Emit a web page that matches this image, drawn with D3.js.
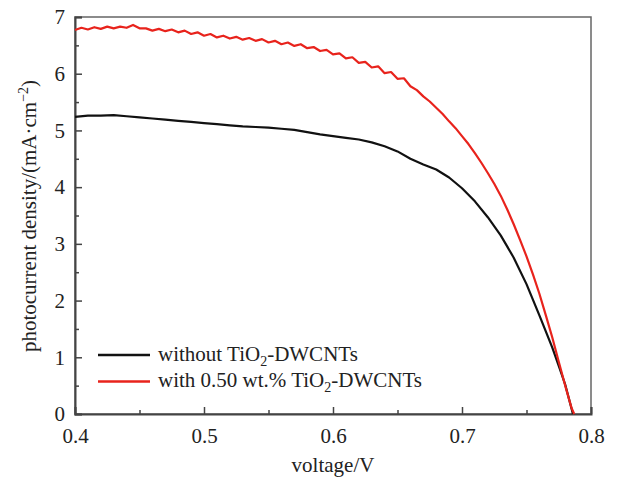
<!DOCTYPE html>
<html>
<head>
	<title>J-V curves</title>
	<script type="text/javascript" src="https://cdnjs.cloudflare.com/ajax/libs/d3/7.8.5/d3.min.js"></script>
	<style>
		body { margin: 0; background: #fff; }
		text { font-family: "Liberation Serif", "Times New Roman", serif; fill: #222; }
	</style>
</head>
<body>
<svg id="chart" width="618" height="479"></svg>
<script type="text/javascript">
	// voltage (V) and photocurrent density (mA/cm2)
	var voltRed = [0.400,0.405,0.410,0.415,0.420,0.425,0.430,0.435,0.440,0.445,0.450,0.455,0.460,0.465,0.470,0.475,0.480,0.485,0.490,0.495,
		0.500,0.505,0.510,0.515,0.520,0.525,0.530,0.535,0.540,0.545,0.550,0.555,0.560,0.565,0.570,0.575,0.580,0.585,0.590,0.595,
		0.600,0.605,0.610,0.615,0.620,0.625,0.630,0.635,0.640,0.645,0.650,0.655,0.660,0.665,0.670,0.675,0.680,0.685,0.690,0.695,
		0.700,0.705,0.710,0.715,0.720,0.725,0.730,0.735,0.740,0.745,0.750,0.755,0.760,0.765,0.770,0.775,0.780,0.785,0.787];
	var currRed = [6.77,6.81,6.78,6.82,6.79,6.83,6.80,6.83,6.81,6.86,6.80,6.80,6.76,6.79,6.75,6.78,6.73,6.76,6.70,6.73,
		6.67,6.70,6.64,6.67,6.62,6.65,6.60,6.63,6.58,6.61,6.55,6.58,6.52,6.55,6.49,6.52,6.45,6.47,6.40,6.42,
		6.34,6.36,6.27,6.29,6.19,6.21,6.11,6.13,6.01,6.03,5.91,5.92,5.78,5.71,5.60,5.51,5.40,5.29,5.16,5.04,
		4.90,4.76,4.60,4.43,4.25,4.06,3.85,3.61,3.35,3.07,2.78,2.46,2.12,1.74,1.35,0.92,0.50,0.10,0.00];

	var voltBlack = [0.400,0.410,0.420,0.430,0.440,0.450,0.460,0.470,0.480,0.490,0.500,0.510,0.520,0.530,0.540,0.550,0.560,0.570,0.580,0.590,
		0.600,0.610,0.620,0.630,0.640,0.650,0.660,0.670,0.680,0.690,0.700,0.710,0.720,0.730,0.740,0.750,0.760,0.770,0.775,0.780,0.786];
	var currBlack = [5.24,5.26,5.26,5.27,5.25,5.23,5.21,5.19,5.17,5.15,5.13,5.11,5.09,5.07,5.06,5.05,5.03,5.01,4.97,4.93,
		4.90,4.87,4.84,4.79,4.72,4.63,4.50,4.40,4.31,4.17,3.98,3.75,3.47,3.15,2.76,2.29,1.74,1.17,0.85,0.52,0.00];

	var xTicks = [0.4, 0.5, 0.6, 0.7, 0.8];
	var yTicks = [0, 1, 2, 3, 4, 5, 6, 7];
	var seriesNames = ["without TiO2-DWCNTs", "with 0.50 wt.% TiO2-DWCNTs"];

	var svg = d3.select("#chart");
	var plotLeft = 75, plotRight = 591, plotTop = 17, plotBottom = 414;
	var fontSize = 21;

	var x = d3.scaleLinear().domain([0.4, 0.8]).range([plotLeft, plotRight]);
	var y = d3.scaleLinear().domain([0, 7]).range([plotBottom, plotTop]);

	var axisColor = "#444";
	function isMajor(list, d) {
		return list.some(function(t) { return Math.abs(t - d) < 1e-6; });
	}

	// frame
	svg.append("rect")
		.attr("x", plotLeft).attr("y", plotTop)
		.attr("width", plotRight - plotLeft).attr("height", plotBottom - plotTop)
		.attr("fill", "none").attr("stroke", "#666").attr("stroke-width", 1.5);

	// bottom axis, ticks pointing inward
	var xAxis = d3.axisBottom(x).tickValues(d3.range(0.4, 0.8001, 0.05)).tickSize(-7).tickPadding(14)
		.tickFormat(function(d) { return isMajor(xTicks, d) ? d3.format(".1f")(d) : ""; });
	var gx = svg.append("g").attr("transform", "translate(0," + plotBottom + ")").call(xAxis);
	gx.selectAll(".tick line").attr("y2", function(d) { return isMajor(xTicks, d) ? -7 : -4; });

	// left axis, ticks pointing inward
	var yAxis = d3.axisLeft(y).tickValues(d3.range(0, 7.001, 0.5)).tickSize(-7).tickPadding(10)
		.tickFormat(function(d) { return isMajor(yTicks, d) ? d3.format("d")(d) : ""; });
	var gy = svg.append("g").attr("transform", "translate(" + plotLeft + ",0)").call(yAxis);
	gy.selectAll(".tick line").attr("x2", function(d) { return isMajor(yTicks, d) ? 7 : 4; });

	[gx, gy].forEach(function(g) {
		g.select(".domain").attr("stroke", axisColor).attr("stroke-width", 2);
		g.selectAll(".tick line").attr("stroke", axisColor).attr("stroke-width", 1.5);
		g.selectAll(".tick text").attr("font-size", fontSize).attr("font-family", "Liberation Serif").attr("fill", "#222");
	});

	// curves
	var line = d3.line()
		.x(function(d) { return x(d[0]); })
		.y(function(d) { return y(d[1]); });

	svg.append("path")
		.datum(d3.zip(voltBlack, currBlack))
		.attr("d", line)
		.attr("fill", "none").attr("stroke", "#111").attr("stroke-width", 2.2).attr("stroke-linejoin", "round");

	svg.append("path")
		.datum(d3.zip(voltRed, currRed))
		.attr("d", line)
		.attr("fill", "none").attr("stroke", "#e8231c").attr("stroke-width", 2.2).attr("stroke-linejoin", "round");

	// legend
	var legendColors = ["#111", "#e8231c"];
	seriesNames.forEach(function(name, i) {
		var ly = 355 + i * 26.5;
		svg.append("line")
			.attr("x1", 98).attr("x2", 150).attr("y1", ly).attr("y2", ly)
			.attr("stroke", legendColors[i]).attr("stroke-width", 2.5);
		var parts = name.split("TiO2");
		var t = svg.append("text").attr("x", 158).attr("y", ly + 5.5).attr("font-size", fontSize);
		t.append("tspan").text(parts[0] + "TiO");
		t.append("tspan").attr("font-size", 14).attr("dy", 5).text("2");
		t.append("tspan").attr("dy", -5).text(parts[1]);
	});

	// axis titles
	svg.append("text")
		.attr("x", 333).attr("y", 472)
		.attr("text-anchor", "middle").attr("font-size", fontSize)
		.text("voltage/V");

	var yt = svg.append("text")
		.attr("transform", "translate(36,216) rotate(-90)")
		.attr("text-anchor", "middle").attr("font-size", fontSize);
	yt.append("tspan").text("photocurrent density/(mA\u00b7cm");
	yt.append("tspan").attr("font-size", 14).attr("dy", -8).text("\u22122");
	yt.append("tspan").attr("dy", 8).text(")");
</script>
</body>
</html>
